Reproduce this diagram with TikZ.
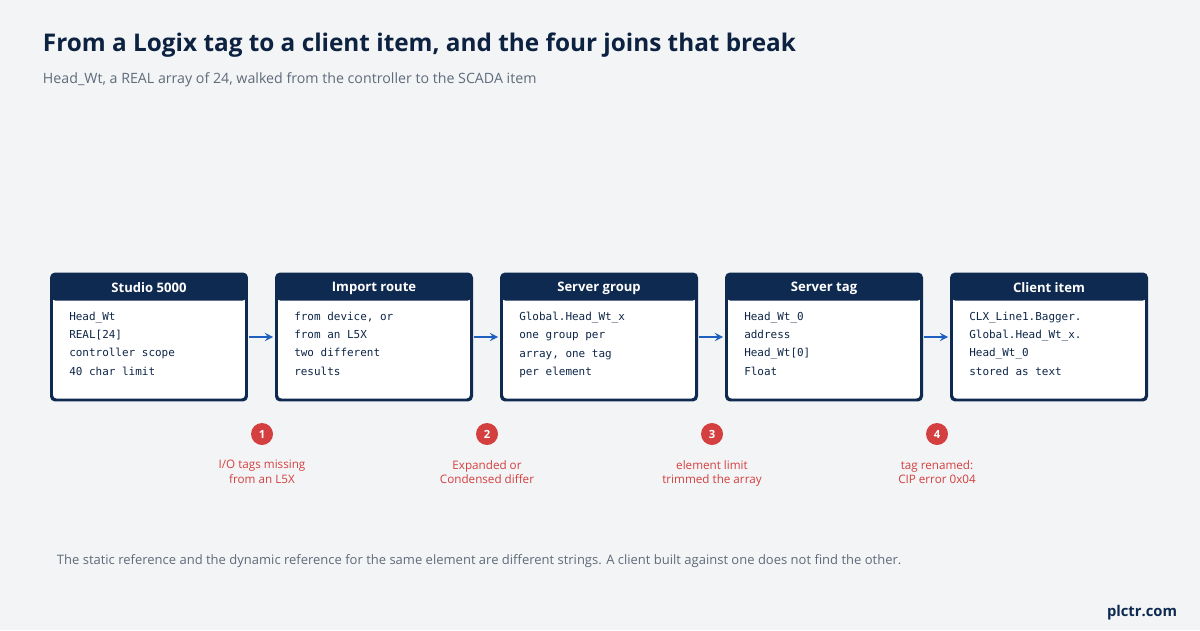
\documentclass[tikz,border=0pt]{standalone}
\usepackage{fontspec}
\setmainfont{Open Sans}
\setmonofont{DejaVu Sans Mono}
\usetikzlibrary{positioning}
\definecolor{navy}{HTML}{0F2A50}
\definecolor{bg}{HTML}{F3F4F6}
\definecolor{flow}{HTML}{1F5FBF}
\definecolor{warn}{HTML}{D43F3F}
\definecolor{muted}{HTML}{5F6B7A}
\tikzset{
  stage/.style={draw=navy, line width=1.4pt, fill=white, rounded corners=3pt,
    minimum width=4.85cm, minimum height=3.125cm, inner sep=0pt},
  head/.style={text=white, font=\bfseries\fontsize{9.3}{11}\selectfont},
  body/.style={anchor=north west, align=left, inner sep=0pt,
    font=\ttfamily\fontsize{7.8}{13.1}\selectfont, text=navy!90!black},
  badge/.style={circle, fill=warn, text=white, minimum size=0.55cm, inner sep=0pt,
    font=\bfseries\fontsize{8}{9}\selectfont},
  note/.style={align=center, text=warn, font=\fontsize{8.3}{10.2}\selectfont},
  hop/.style={-stealth, draw=flow, line width=1.6pt, shorten <=1.5pt, shorten >=2pt}
}
\newcommand{\stagehead}[2]{%
  \fill[navy, rounded corners=3pt] ([yshift=-0.675cm]#1.north west) -- (#1.north west)
    -- (#1.north east) -- ([yshift=-0.675cm]#1.north east) -- cycle;
  \draw[navy, line width=1.4pt, rounded corners=3pt] (#1.north west) rectangle (#1.south east);
  \node[head] at ([yshift=-0.36cm]#1.north) {#2};}
\begin{document}
\begin{tikzpicture}[x=0.025cm, y=-0.025cm]
  \fill[bg] (0,0) rectangle (1200,630);
  \node[anchor=west, text=navy!80!black, font=\bfseries\fontsize{17.3}{20}\selectfont] (title) at (38,45)
    {From a Logix tag to a client item, and the four joins that break};
  \node[anchor=west, text=muted, font=\fontsize{10.1}{12}\selectfont] (sub) at (38,80)
    {Head\_Wt, a REAL array of 24, walked from the controller to the SCADA item};

  % the five stages
  \node[stage] (studio) at (149,337) {};
  \node[stage] (route) at (374,337) {};
  \node[stage] (group) at (599,337) {};
  \node[stage] (tag) at (824,337) {};
  \node[stage] (item) at (1049,337) {};
  \stagehead{studio}{Studio 5000}
  \stagehead{route}{Import route}
  \stagehead{group}{Server group}
  \stagehead{tag}{Server tag}
  \stagehead{item}{Client item}
  \node[body] at ([xshift=0.45cm,yshift=-0.95cm]studio.north west)
    {Head\_Wt\\REAL[24]\\controller scope\\40 char limit};
  \node[body] at ([xshift=0.45cm,yshift=-0.95cm]route.north west)
    {from device, or\\from an L5X\\two different\\results};
  \node[body] at ([xshift=0.45cm,yshift=-0.95cm]group.north west)
    {Global.Head\_Wt\_x\\one group per\\array, one tag\\per element};
  \node[body] at ([xshift=0.45cm,yshift=-0.95cm]tag.north west)
    {Head\_Wt\_0\\address\\Head\_Wt[0]\\Float};
  \node[body] at ([xshift=0.45cm,yshift=-0.95cm]item.north west)
    {CLX\_Line1.Bagger.\\Global.Head\_Wt\_x.\\Head\_Wt\_0\\stored as text};

  \draw[hop] (studio) -- (route);
  \draw[hop] (route) -- (group);
  \draw[hop] (group) -- (tag);
  \draw[hop] (tag) -- (item);

  % the four breaks
  \node[badge] (m1) at (262,434) {1};
  \node[badge] (m2) at (487,434) {2};
  \node[badge] (m3) at (712,434) {3};
  \node[badge] (m4) at (937,434) {4};
  \node[note, below=0.25cm of m1] {I/O tags missing\\from an L5X};
  \node[note, below=0.25cm of m2] {Expanded or\\Condensed differ};
  \node[note, below=0.25cm of m3] {element limit\\trimmed the array};
  \node[note, below=0.25cm of m4] {tag renamed:\\CIP error 0x04};

  \node[anchor=west, text=muted, font=\fontsize{9.25}{11}\selectfont] (foot) at (52,561)
    {The static reference and the dynamic reference for the same element are different strings. A client built against one does not find the other.};
  \node[anchor=east, text=navy, font=\bfseries\fontsize{10.5}{12}\selectfont] (brand) at (1182,613) {plctr.com};
\end{tikzpicture}
\end{document}
